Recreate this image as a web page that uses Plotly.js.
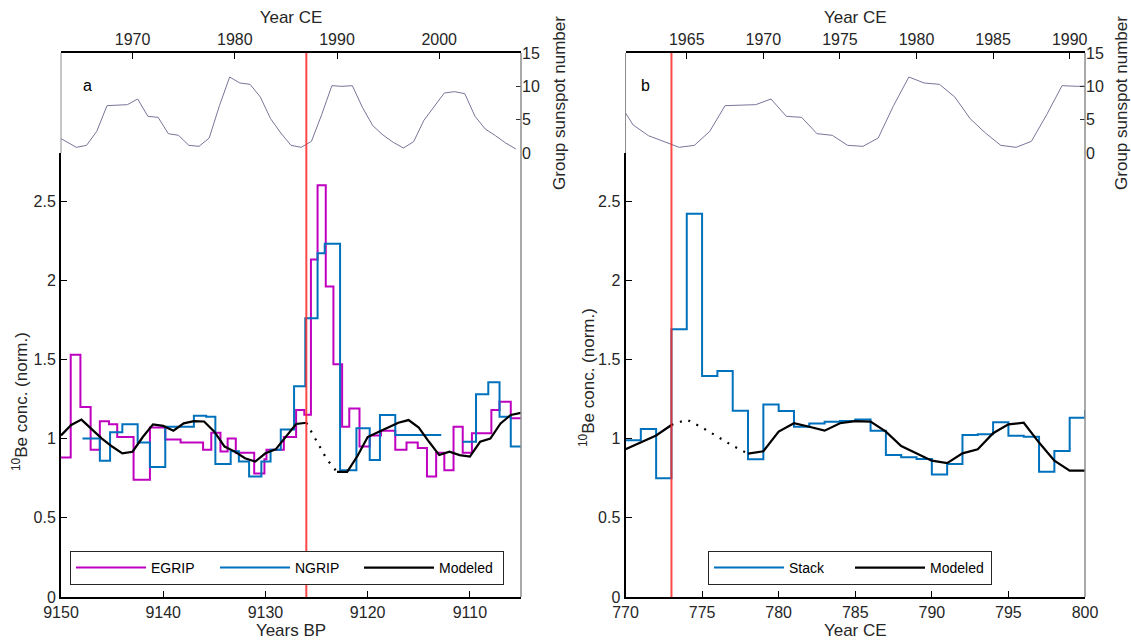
<!DOCTYPE html>
<html><head><meta charset="utf-8">
<script src="https://cdn.plot.ly/plotly-3.0.1.min.js"></script>
<style>html,body{margin:0;padding:0;background:#fff}</style>
</head><body><div id="chart" style="width:1131px;height:641px"></div>
<script>
// ---------- Panel a : Years BP ----------
const egripBP  = [9150, 9149.05, 9148.1, 9147.1, 9146.2, 9145.3, 9144.5, 9142.9, 9141.3, 9139.8, 9138.3, 9136.1, 9135.3, 9134.4, 9133.7, 9132.9, 9131.1, 9130.1, 9129.9, 9128.2, 9127.0, 9126.2, 9125.55, 9124.9, 9124.1, 9123.35, 9122.5, 9121.8, 9120.8, 9119.8, 9118.7, 9117.3, 9116.2, 9115.1, 9114.2, 9113.3, 9112.5, 9111.6, 9110.7, 9109.8, 9107.9, 9107.1, 9106.0, 9105];
const egripVal = [0.88, 1.53, 1.20, 0.93, 1.11, 1.09, 1.01, 0.74, 1.07, 0.995, 0.975, 0.93, 1.037, 0.918, 1.00, 0.91, 0.78, 0.87, 0.93, 1.01, 1.18, 1.15, 2.13, 2.60, 1.96, 1.47, 1.075, 1.19, 0.95, 1.02, 1.05, 0.93, 0.975, 0.94, 0.76, 0.91, 0.80, 1.075, 0.91, 1.033, 1.18, 1.233, 1.128, 1.128];

const ngripBP  = [9147.9, 9146.2, 9145.2, 9144.0, 9142.5, 9141.3, 9139.8, 9137.0, 9135.8, 9134.9, 9133.4, 9132.6, 9131.6, 9130.4, 9129.5, 9128.5, 9127.2, 9126.1, 9124.9, 9124.2, 9122.7, 9121.1, 9119.8, 9118.8, 9117.3, 9112.8, 9112.8, 9110.7, 9109.4, 9108.2, 9107.1, 9106.0, 9105];
const ngripVal = [1.0, 0.86, 1.04, 1.09, 0.975, 0.82, 1.075, 1.145, 1.138, 0.84, 0.92, 0.855, 0.76, 0.855, 0.93, 1.058, 1.33, 1.76, 2.17, 2.23, 0.80, 1.065, 0.865, 1.149, 1.023, 1.023, null, 0.98, 1.28, 1.355, 1.138, 0.95, 0.95];

const modelPreBP  = [9150, 9149, 9148, 9147, 9146, 9145, 9144, 9143, 9142, 9141, 9140, 9139, 9138, 9137, 9136, 9135, 9134, 9133, 9132, 9131, 9130, 9129, 9128, 9127, 9126];
const modelPre    = [1.02, 1.086, 1.12, 1.06, 1.0, 0.95, 0.907, 0.917, 1.01, 1.09, 1.08, 1.05, 1.096, 1.11, 1.108, 1.044, 0.95, 0.918, 0.876, 0.855, 0.907, 0.932, 1.012, 1.092, 1.10];
const modelGapBP  = [9126, 9125, 9124, 9123];
const modelGap    = [1.10, 0.98, 0.87, 0.79];
const modelPostBP = [9123, 9122, 9121, 9120, 9119, 9118, 9117, 9116, 9115, 9114, 9113, 9112, 9111, 9110, 9109, 9108, 9107, 9106, 9105];
const modelPost   = [0.79, 0.79, 0.89, 1.01, 1.04, 1.07, 1.10, 1.117, 1.07, 0.98, 0.896, 0.917, 0.896, 0.886, 0.98, 1.0, 1.096, 1.149, 1.163];

// ---------- Panel b : Year CE ----------
const stackYear = [770, 771, 772, 773, 774, 775, 776, 777, 778, 779, 780, 781, 782, 783, 784, 785, 786, 787, 788, 789, 790, 791, 792, 793, 794, 795, 796, 797, 798, 799, 800];
const stackVal  = [0.99, 1.06, 0.75, 1.69, 2.42, 1.395, 1.427, 1.176, 0.869, 1.216, 1.175, 1.075, 1.096, 1.107, 1.111, 1.12, 1.05, 0.896, 0.882, 0.871, 0.774, 0.84, 1.023, 1.027, 1.103, 1.018, 1.012, 0.791, 0.922, 1.132, 1.18];

const modelBPreYear  = [770, 771, 772, 773];
const modelBPre      = [0.932, 0.975, 1.02, 1.086];
const modelBGapYear  = [773, 774, 775, 776, 777, 778];
const modelBGap      = [1.086, 1.12, 1.07, 1.01, 0.955, 0.905];
const modelBPostYear = [778, 779, 780, 781, 782, 783, 784, 785, 786, 787, 788, 789, 790, 791, 792, 793, 794, 795, 796, 797, 798, 799, 800];
const modelBPost     = [0.905, 0.92, 1.044, 1.097, 1.075, 1.05, 1.097, 1.11, 1.107, 1.044, 0.953, 0.907, 0.861, 0.845, 0.907, 0.932, 1.034, 1.09, 1.1, 0.975, 0.861, 0.798, 0.798];

// ---------- Group sunspot number (yearly, plotted at mid-year) ----------
const sunYear = [1960, 1961, 1962, 1963, 1964, 1965, 1966, 1967, 1968, 1969, 1970, 1971, 1972, 1973, 1974, 1975, 1976, 1977, 1978, 1979, 1980, 1981, 1982, 1983, 1984, 1985, 1986, 1987, 1988, 1989, 1990, 1991, 1992, 1993, 1994, 1995, 1996, 1997, 1998, 1999, 2000, 2001, 2002, 2003, 2004, 2005, 2006, 2007];
const sunGN   = [7.8, 4.2, 2.6, 1.75, 0.85, 1.15, 3.25, 7.1, 7.15, 7.25, 8.1, 5.5, 5.35, 2.9, 2.65, 1.15, 1.0, 2.25, 7.1, 11.4, 10.5, 10.3, 8.4, 5.15, 3.0, 1.15, 0.85, 1.75, 5.75, 10.1, 10.0, 10.1, 6.8, 4.1, 2.7, 1.6, 0.75, 1.7, 4.9, 7.0, 9.0, 9.2, 8.9, 5.5, 3.6, 2.6, 1.5, 0.6];

const eventBP = 9126, eventCE = 773;
const bpTicks = [9150, 9140, 9130, 9120, 9110];
const ceTicksA = [1970, 1980, 1990, 2000];
const ceTicksB = [1965, 1970, 1975, 1980, 1985, 1990];
const ceTicksBottom = [770, 775, 780, 785, 790, 795, 800];
const beTicks = [0, 0.5, 1, 1.5, 2, 2.5];
const sunTicks = [0, 5, 10, 15];

// ---------- layout geometry ----------
const W = 1131, H = 641;
const xa = [61 / W, 521 / W];
const xb = [625.5 / W, 1085 / W];
const mainY = [1 - 597 / H, 1 - 153 / H];
const sunY = [1 - 153 / H, 1 - 53 / H];

const MAG = '#BF00BF', BLUE = '#0072BD', BLK = '#000000', SUN = '#76769A';
const DOTS = '2px,7px';
const sunMid = sunYear.map(y => y + 0.5);

const traces = [
  {x: egripBP, y: egripVal, xaxis: 'x', yaxis: 'y', mode: 'lines', line: {shape: 'hv', color: MAG, width: 2}, name: 'EGRIP', legend: 'legend'},
  {x: ngripBP, y: ngripVal, xaxis: 'x', yaxis: 'y', mode: 'lines', line: {shape: 'hv', color: BLUE, width: 2}, name: 'NGRIP', legend: 'legend', connectgaps: false},
  {x: modelPreBP.concat([null], modelPostBP), y: modelPre.concat([null], modelPost), xaxis: 'x', yaxis: 'y', mode: 'lines', line: {color: BLK, width: 2.2}, name: 'Modeled', legend: 'legend', connectgaps: false},
  {x: modelGapBP, y: modelGap, xaxis: 'x', yaxis: 'y', mode: 'lines', line: {color: BLK, width: 2.2, dash: DOTS}, showlegend: false},
  {x: sunMid, y: sunGN, xaxis: 'x3', yaxis: 'y3', mode: 'lines', line: {color: SUN, width: 1}, showlegend: false},

  {x: stackYear, y: stackVal, xaxis: 'x2', yaxis: 'y2', mode: 'lines', line: {shape: 'hv', color: BLUE, width: 2}, name: 'Stack', legend: 'legend2'},
  {x: modelBPreYear.concat([null], modelBPostYear), y: modelBPre.concat([null], modelBPost), xaxis: 'x2', yaxis: 'y2', mode: 'lines', line: {color: BLK, width: 2.2}, name: 'Modeled', legend: 'legend2', connectgaps: false},
  {x: modelBGapYear, y: modelBGap, xaxis: 'x2', yaxis: 'y2', mode: 'lines', line: {color: BLK, width: 2.2, dash: DOTS}, showlegend: false},
  {x: sunMid, y: sunGN, xaxis: 'x4', yaxis: 'y4', mode: 'lines', line: {color: SUN, width: 1}, showlegend: false}
];

const TXT = '#262626';
function bottomX(domain, range, tickvals, title, anchor) {
  return {domain, range, tickvals, anchor, automargin: false, ticks: 'inside', ticklen: 6, tickwidth: 1, tickcolor: '#000',
    showline: true, linecolor: '#000', linewidth: 2, showgrid: false, zeroline: false,
    tickfont: {size: 16, color: TXT}, title: {text: title, font: {size: 17, color: TXT}, standoff: 3}};
}
function topX(domain, range, tickvals, anchor) {
  return {domain, range, tickvals, anchor, automargin: false, side: 'top', ticks: 'inside', ticklen: 6, tickwidth: 1, tickcolor: '#000',
    showline: true, linecolor: '#000', linewidth: 2, showgrid: false, zeroline: false,
    tickfont: {size: 16, color: TXT}, title: {text: 'Year CE', font: {size: 17, color: TXT}, standoff: 3}};
}
function mainYAx(anchor) {
  return {domain: mainY, range: [0, 444 / 158.4], tickvals: beTicks, ticktext: beTicks.map(String), anchor, automargin: false,
    ticks: 'inside', ticklen: 6, tickwidth: 1, tickcolor: '#000', showline: true, linecolor: '#000', linewidth: 2,
    showgrid: false, zeroline: false, tickfont: {size: 16, color: TXT}};
}
function sunYAx(anchor) {
  return {domain: sunY, range: [0, 15], tickvals: sunTicks, anchor, side: 'right', automargin: false,
    ticks: 'inside', ticklen: 5, tickwidth: 1, tickcolor: '#333', showline: false,
    showgrid: false, zeroline: false, tickfont: {size: 16, color: TXT},
    title: {text: 'Group sunspot number', font: {size: 17, color: TXT}, standoff: 14}};
}

const GRAY = '#8C8C8C';
const shapes = [
  {type: 'line', xref: 'paper', yref: 'paper', x0: xa[1], x1: xa[1], y0: mainY[0], y1: sunY[1], line: {color: GRAY, width: 1.5}},
  {type: 'line', xref: 'paper', yref: 'paper', x0: xa[0], x1: xa[0], y0: sunY[0], y1: sunY[1], line: {color: GRAY, width: 1}},
  {type: 'line', xref: 'paper', yref: 'paper', x0: xb[1], x1: xb[1], y0: mainY[0], y1: sunY[1], line: {color: GRAY, width: 1.5}},
  {type: 'line', xref: 'paper', yref: 'paper', x0: xb[0], x1: xb[0], y0: sunY[0], y1: sunY[1], line: {color: GRAY, width: 1}},
  {type: 'line', xref: 'x', yref: 'paper', x0: eventBP, x1: eventBP, y0: mainY[0], y1: sunY[1], line: {color: 'rgba(255,40,40,0.85)', width: 2}},
  {type: 'line', xref: 'x2', yref: 'paper', x0: eventCE, x1: eventCE, y0: mainY[0], y1: sunY[1], line: {color: 'rgba(255,40,40,0.85)', width: 2}}
];

const legendBase = {orientation: 'h', xanchor: 'left', yanchor: 'top', y: 1 - 551 / H, bordercolor: '#262626', borderwidth: 1,
  bgcolor: '#fff', font: {size: 14, color: '#000'}, itemwidth: 70, tracegroupgap: 0};

const yTitle = '<sup>10</sup>Be conc. (norm.)';
const layout = {
  width: W, height: H, margin: {l: 0, r: 0, t: 0, b: 0, autoexpand: false}, paper_bgcolor: '#fff', plot_bgcolor: 'rgba(0,0,0,0)',
  font: {family: 'Liberation Sans, Arial, Helvetica, sans-serif', color: TXT},
  showlegend: true,
  xaxis: bottomX(xa, [9150, 9105], bpTicks, 'Years BP', 'y'),
  yaxis: mainYAx('x'),
  xaxis3: topX(xa, [1963, 2008], ceTicksA, 'y3'),
  yaxis3: sunYAx('x3'),
  xaxis2: bottomX(xb, [770, 800], ceTicksBottom, 'Year CE', 'y2'),
  yaxis2: mainYAx('x2'),
  xaxis4: topX(xb, [1961, 1991], ceTicksB, 'y4'),
  yaxis4: sunYAx('x4'),
  legend: Object.assign({}, legendBase, {x: 70 / W, entrywidth: 59}),
  legend2: Object.assign({}, legendBase, {x: 708 / W, entrywidth: 56}),
  shapes,
  annotations: [
    {text: 'a', xref: 'paper', yref: 'paper', x: 81 / W, y: 1 - 75 / H, showarrow: false, font: {size: 16, color: '#000'}},
    {text: 'b', xref: 'paper', yref: 'paper', x: 645 / W, y: 1 - 75 / H, showarrow: false, font: {size: 16, color: '#000'}},
    {text: yTitle, xref: 'paper', yref: 'paper', x: 20 / W, y: 1 - 402 / H, textangle: -90,
     showarrow: false, xanchor: 'center', yanchor: 'middle', font: {size: 17, color: TXT}},
    {text: yTitle, xref: 'paper', yref: 'paper', x: 587 / W, y: 1 - 378 / H, textangle: -90,
     showarrow: false, xanchor: 'center', yanchor: 'middle', font: {size: 17, color: TXT}}
  ]
};

Plotly.newPlot('chart', traces, layout, {displayModeBar: false, staticPlot: true});
</script></body></html>
